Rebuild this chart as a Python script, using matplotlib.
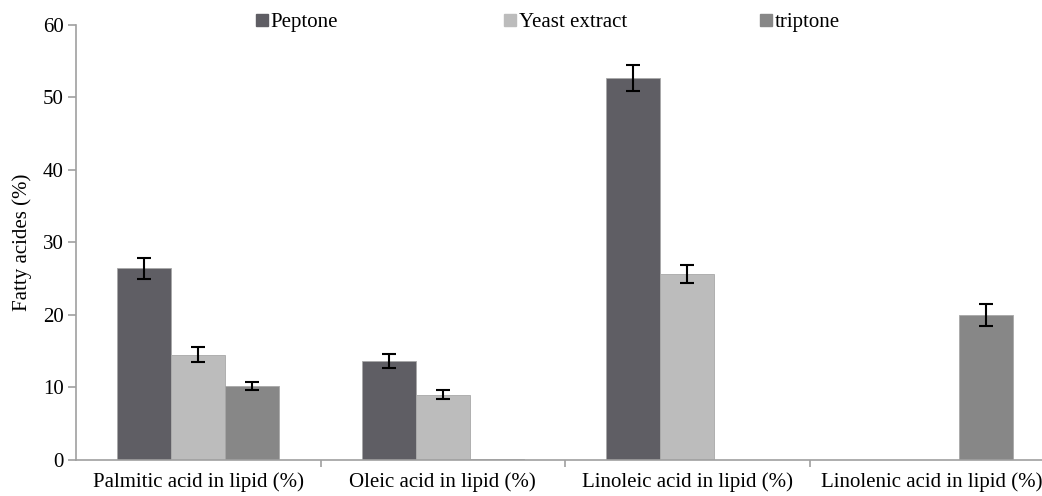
import numpy as np
import matplotlib.pyplot as plt

plt.rcParams['font.family'] = ['Liberation Serif', 'DejaVu Serif']

categories = ['Palmitic acid in lipid (%)', 'Oleic acid in lipid (%)',
              'Linoleic acid in lipid (%)', 'Linolenic acid in lipid (%)']
series = ['Peptone', 'Yeast extract', 'triptone']
peptone = [26.4, 13.6, 52.7, 0.0]
yeast = [14.5, 9.0, 25.6, 0.0]
triptone = [10.2, 0.15, 0.0, 20.0]
peptone_err = [1.5, 1.0, 1.8, 0.0]
yeast_err = [1.0, 0.65, 1.25, 0.0]
triptone_err = [0.55, 0.0, 0.0, 1.5]

colors = ['#5f5e64', '#bcbcbc', '#878787']
values = [peptone, yeast, triptone]
errors = [peptone_err, yeast_err, triptone_err]

fs = 15

fig = plt.figure(figsize=(10.42, 4.96), dpi=100)
ax = fig.add_axes([0.073, 0.073, 0.9385, 0.877])

x = np.arange(len(categories))
w = 0.221
for i, (vals, errs) in enumerate(zip(values, errors)):
    pos = x + (i - 1) * w
    ax.bar(pos, vals, width=w, color=colors[i], edgecolor='#a8a8a8',
           linewidth=0.6, label=series[i])
    mask = np.array(errs) > 0
    ax.errorbar(pos[mask], np.array(vals)[mask], yerr=np.array(errs)[mask],
                fmt='none', ecolor='black', elinewidth=1.5, capsize=5,
                capthick=1.5)

ax.set_xlim(-0.5, 3.5)
ax.set_ylim(0, 60)
ax.set_yticks(range(0, 61, 10))
ax.set_xticks(x)
ax.set_xticklabels(categories, fontsize=fs)
ax.set_xticks([0.5, 1.5, 2.5], minor=True)
ax.tick_params(axis='x', which='major', length=0, pad=9)
ax.tick_params(axis='x', which='minor', length=5, color='#a0a0a0', width=1.2)
ax.tick_params(axis='y', labelsize=fs, length=6, color='#a0a0a0', width=1.2,
               pad=3)
ax.set_ylabel('Fatty acides (%)', fontsize=fs, labelpad=8)

for side in ['top', 'right']:
    ax.spines[side].set_visible(False)
for side in ['left', 'bottom']:
    ax.spines[side].set_color('#a0a0a0')
    ax.spines[side].set_linewidth(1.2)

# legend entries placed like Excel's evenly spaced legend
leg_x = [254, 502, 758]
for name, c, px in zip(series, colors, leg_x):
    h = plt.Line2D([], [], marker='s', linestyle='none', markersize=8,
                   markerfacecolor=c, markeredgecolor=c)
    leg = fig.legend([h], [name], loc='center left',
                     bbox_to_anchor=(px / 1042, 1 - 22 / 496),
                     frameon=False, fontsize=fs, handletextpad=0.0,
                     handlelength=0.8, borderpad=0, borderaxespad=0)

fig.savefig('out.png', dpi=100)
